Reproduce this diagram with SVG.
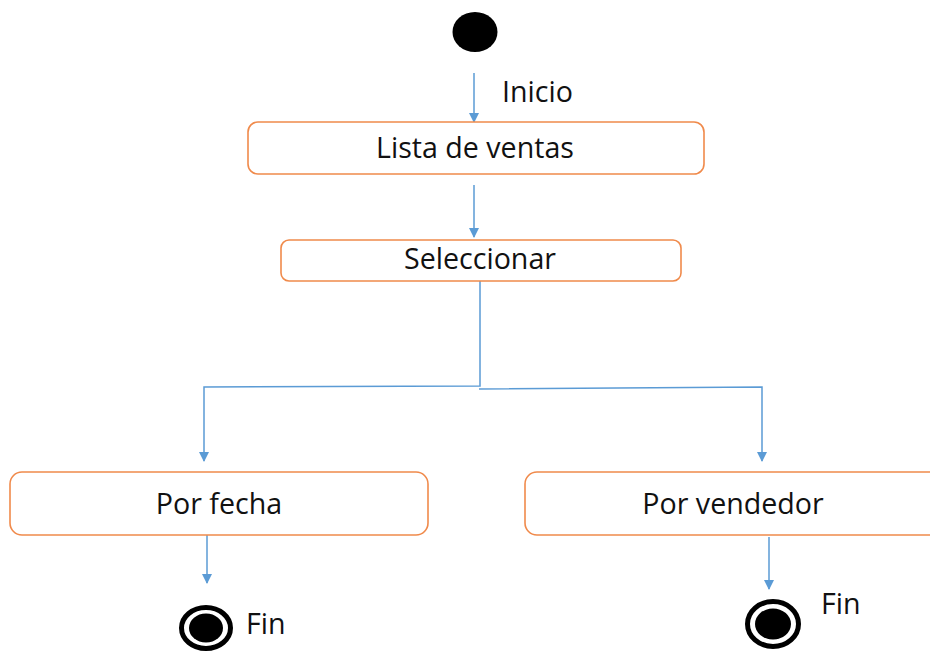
<svg xmlns="http://www.w3.org/2000/svg" width="930" height="654" viewBox="0 0 930 654">
<style>
.box{fill:#fff;stroke:#F08A4B;stroke-width:1.6}
.t{font-family:"Open Sans","Liberation Sans",sans-serif;font-size:28.6px;fill:#111}
.c{stroke:#5B9BD5;stroke-width:1.5;fill:none}
.ah{fill:#5B9BD5}
</style>
<defs>
<marker id="arr" markerWidth="10" markerHeight="10" refX="9" refY="5" orient="auto" markerUnits="userSpaceOnUse">
<path d="M0,0 L10,5 L0,10 Z" class="ah"/>
</marker>
</defs>
<rect width="930" height="654" fill="#fff"/>
<g id="connectors">
<line class="c" x1="474" y1="73" x2="474" y2="122" marker-end="url(#arr)"/>
<line class="c" x1="474" y1="185" x2="474" y2="237" marker-end="url(#arr)"/>
<polyline class="c" points="480,281 480,386 204,387 204,461" marker-end="url(#arr)"/>
<polyline class="c" points="479,389 762,387 762,461" marker-end="url(#arr)"/>
<line class="c" x1="207" y1="534" x2="207" y2="583" marker-end="url(#arr)"/>
<line class="c" x1="769" y1="537" x2="769" y2="589" marker-end="url(#arr)"/>
</g>
<g id="start">
<ellipse cx="475" cy="32" rx="22.5" ry="20" fill="#000"/>
<text class="t" x="502" y="102">Inicio</text>
</g>
<g id="lista">
<rect class="box" x="248" y="122" width="456" height="52" rx="10"/>
<text class="t" x="475" y="158" text-anchor="middle">Lista de ventas</text>
</g>
<g id="seleccionar">
<rect class="box" x="281" y="240" width="400" height="41" rx="8"/>
<text class="t" x="480" y="269" text-anchor="middle">Seleccionar</text>
</g>
<g id="porfecha">
<rect class="box" x="10" y="472" width="418" height="63" rx="12"/>
<text class="t" x="219" y="514" text-anchor="middle">Por fecha</text>
</g>
<g id="porvendedor">
<rect class="box" x="525" y="472" width="420" height="63" rx="12"/>
<text class="t" x="733" y="514" text-anchor="middle">Por vendedor</text>
</g>
<g id="fin1">
<ellipse cx="206" cy="628" rx="24.5" ry="20.5" fill="none" stroke="#000" stroke-width="5"/>
<ellipse cx="206" cy="628" rx="17" ry="14.5" fill="#000"/>
<text class="t" x="246" y="634">Fin</text>
</g>
<g id="fin2">
<ellipse cx="773" cy="624" rx="25.5" ry="22.5" fill="none" stroke="#000" stroke-width="5"/>
<ellipse cx="773" cy="624" rx="18" ry="15.5" fill="#000"/>
<text class="t" x="821" y="614">Fin</text>
</g>
</svg>
